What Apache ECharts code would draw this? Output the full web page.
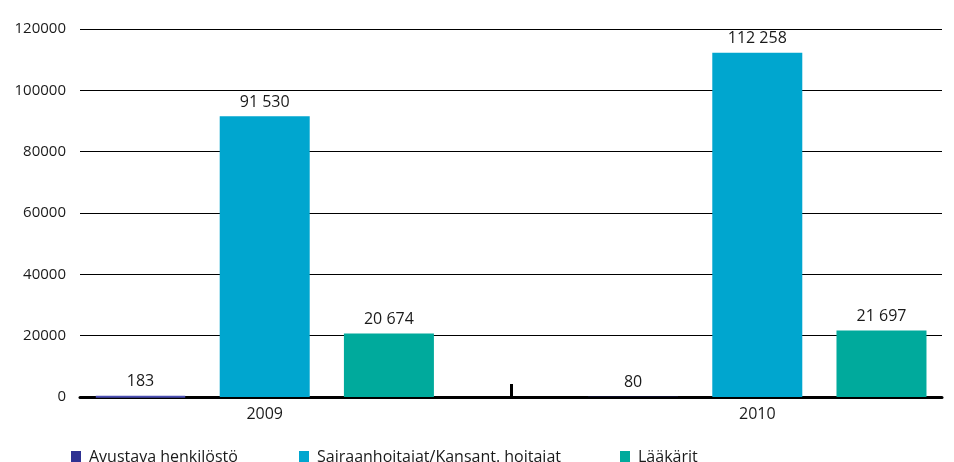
<!DOCTYPE html>
<html>
<head>
<meta charset="utf-8">
<script src="https://cdn.jsdelivr.net/npm/echarts@6/dist/echarts.min.js"></script>
<style>
  html, body { margin: 0; padding: 0; background: #fff; }
  #chart { width: 954px; height: 462px; }
</style>
</head>
<body>
<div id="chart"></div>
<script>
var years = [2009, 2010];
var seriesNames = ['Avustava henkilöstö', 'Sairaanhoitajat/Kansant. hoitajat', 'Lääkärit'];
var avustava = [183, 80];
var sairaanhoitajat = [91530, 112258];
var laakarit = [20674, 21697];
var colors = ['#2e3192', '#00a6cf', '#00aa9c'];

function fmt(v) {
  return String(v).replace(/\B(?=(\d{3})+(?!\d))/g, ' ');
}

function pairs(vals) {
  return years.map(function (y, i) { return [y, vals[i]]; });
}

var myChart = echarts.init(document.getElementById('chart'));

var labelOpt = {
  show: true,
  position: 'top',
  distance: 6,
  color: '#1a1a1a',
  fontFamily: 'Open Sans',
  fontSize: 16,
  formatter: function (p) { return fmt(p.value[1]); }
};

// avustava: tiny 2009 bar gets an outline so it shows, 2010 one doesn't
var avustavaData = pairs(avustava).map(function (d, i) {
  return {
    value: d,
    itemStyle: i === 0 ? { borderColor: '#4a4eb2', borderWidth: 2 } : { borderWidth: 0 }
  };
});

var legendBase = {
  bottom: -8,
  itemWidth: 10,
  itemHeight: 12,
  itemGap: 0,
  icon: 'rect',
  selectedMode: false,
  textStyle: { color: '#1a1a1a', fontFamily: 'Open Sans', fontSize: 16, padding: [0, 0, 0, 3] }
};

var option = {
  backgroundColor: '#ffffff',
  animation: false,
  color: colors,
  grid: { left: 80, right: 12, top: 29, bottom: 65 },
  legend: [
    Object.assign({}, legendBase, { left: 66, data: [seriesNames[0]] }),
    Object.assign({}, legendBase, { left: 294, data: [seriesNames[1]] }),
    Object.assign({}, legendBase, { left: 615, data: [seriesNames[2]] })
  ],
  xAxis: {
    type: 'value',
    min: 2008.625,
    max: 2010.375,
    offset: 2,
    splitLine: { show: false },
    axisLine: { show: true, lineStyle: { color: '#000', width: 3 } },
    axisTick: {
      show: true,
      inside: true,
      length: 13,
      customValues: [2009.5],
      lineStyle: { color: '#000', width: 3 }
    },
    axisLabel: {
      customValues: years,
      color: '#1a1a1a',
      fontFamily: 'Open Sans',
      fontSize: 16,
      margin: 7,
      formatter: function (v) { return String(v); }
    }
  },
  yAxis: {
    type: 'value',
    min: 0,
    max: 120000,
    interval: 20000,
    axisLine: { show: false },
    axisTick: { show: false },
    splitLine: { show: true, lineStyle: { color: '#000', width: 1 } },
    axisLabel: {
      color: '#1a1a1a',
      fontFamily: 'Open Sans',
      fontSize: 15,
      margin: 14,
      formatter: function (v) { return String(v); }
    }
  },
  series: [
    {
      type: 'bar', name: seriesNames[0], data: avustavaData,
      barWidth: 90, barGap: '38%', label: labelOpt
    },
    {
      type: 'bar', name: seriesNames[1], data: pairs(sairaanhoitajat),
      barWidth: 90, barGap: '38%', label: labelOpt
    },
    {
      type: 'bar', name: seriesNames[2], data: pairs(laakarit),
      barWidth: 90, barGap: '38%', label: labelOpt
    }
  ]
};

myChart.setOption(option);
</script>
</body>
</html>
